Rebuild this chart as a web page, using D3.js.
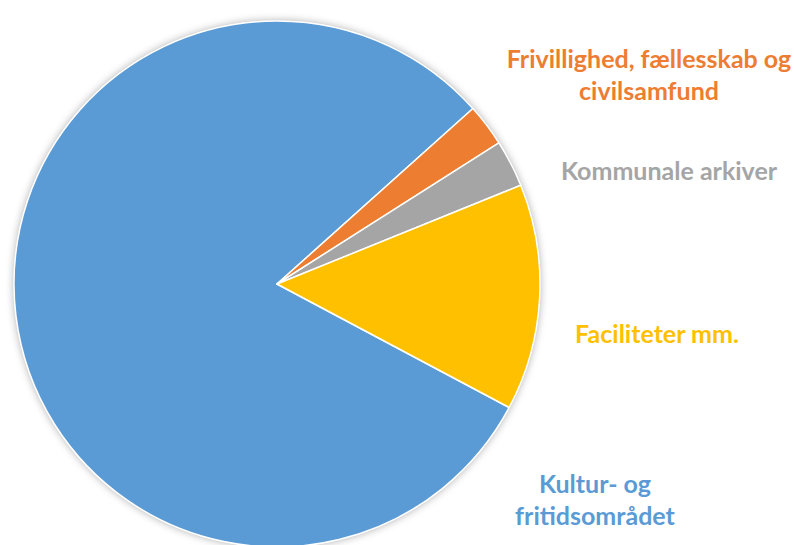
<!DOCTYPE html>
<html>
<head>
<meta charset="utf-8">
<script src="https://cdn.jsdelivr.net/npm/d3@7"></script>
<style>
  body { margin: 0; background: #fff; }
  text { font-family: Lato, "Open Sans", sans-serif; font-weight: bold; }
</style>
</head>
<body>
<script>
// data (andel i pct.)
var categories = ["Kultur- og fritidsområdet", "Frivillighed, fællesskab og civilsamfund", "Kommunale arkiver", "Faciliteter mm."];
var values = [80.6, 2.6, 2.9, 13.9];
var colors = ["#5B9BD5", "#ED7D31", "#A5A5A5", "#FFC000"];
// label lines
var labelLines = [["Kultur- og", "fritidsområdet"], ["Frivillighed, fællesskab og", "civilsamfund"], ["Kommunale arkiver"], ["Faciliteter mm."]];
var labelPos = [[595, 493], [649, 68], [669, 180], [657, 343]];

var width = 794, height = 545;
var cx = 277, cy = 284, radius = 263;

var svg = d3.select("body").append("svg")
  .attr("width", width)
  .attr("height", height);

// shadow
var defs = svg.append("defs");
var f = defs.append("filter").attr("id", "shadow")
  .attr("x", "-10%").attr("y", "-10%").attr("width", "120%").attr("height", "120%");
f.append("feDropShadow")
  .attr("dx", 0).attr("dy", 0)
  .attr("stdDeviation", 4)
  .attr("flood-color", "#000")
  .attr("flood-opacity", 0.35);

var g = svg.append("g").attr("transform", `translate(${cx}, ${cy})`);

var start = 118 * Math.PI / 180;
var pie = d3.pie().sort(null)
  .startAngle(start)
  .endAngle(start + 2 * Math.PI);
var arc = d3.arc().innerRadius(0).outerRadius(radius);

var data = values.map((v, i) => ({ name: categories[i], value: v, i: i }));

g.append("circle").attr("r", radius).attr("fill", "#fff").attr("filter", "url(#shadow)");

g.selectAll("path.slice")
  .data(pie.value(d => d.value)(data))
  .enter().append("path")
  .attr("class", "slice")
  .attr("d", arc)
  .attr("fill", d => colors[d.data.i])
  .attr("stroke", "#fff")
  .attr("stroke-width", 1.5)
  .attr("stroke-linejoin", "round");

// labels
categories.forEach(function(c, i) {
  var t = svg.append("text")
    .attr("x", labelPos[i][0])
    .attr("y", labelPos[i][1])
    .attr("text-anchor", "middle")
    .attr("fill", colors[i])
    .style("font-size", "25px");
  labelLines[i].forEach(function(l, j) {
    t.append("tspan").attr("x", labelPos[i][0]).attr("dy", j === 0 ? 0 : 32).text(l);
  });
});
</script>
</body>
</html>
